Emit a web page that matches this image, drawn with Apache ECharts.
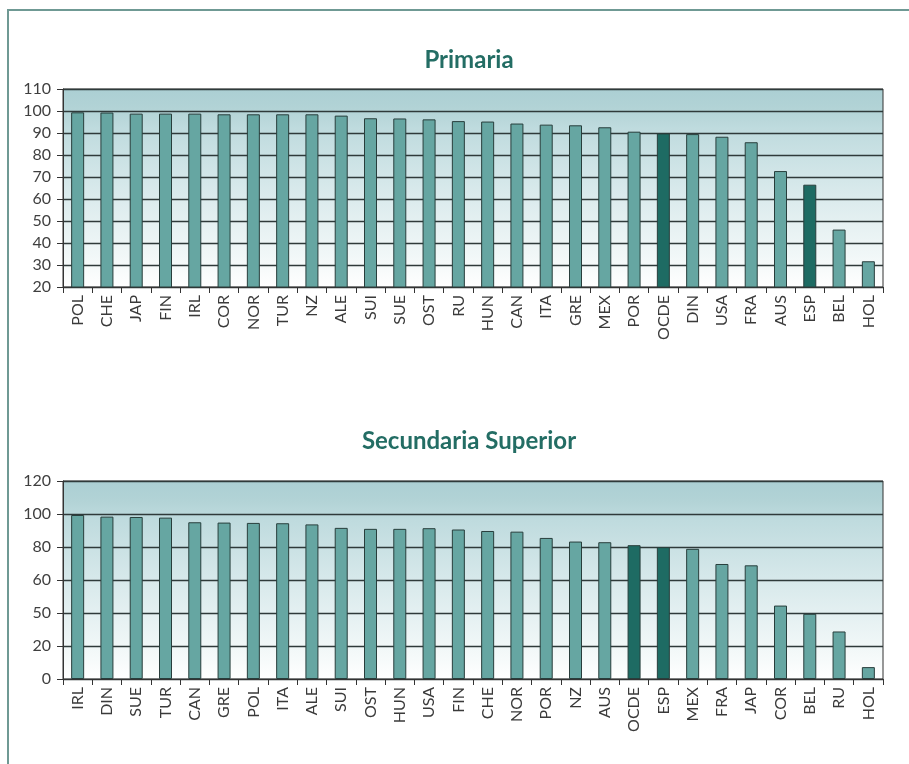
<!DOCTYPE html>
<html>
<head>
<meta charset="utf-8">
<script src="https://cdn.jsdelivr.net/npm/echarts@6/dist/echarts.min.js"></script>
<style>
  html, body { margin:0; padding:0; background:#fff; }
  #frame { position:absolute; left:7px; top:9px; width:910px; height:770px; border-top:2px solid #6f9994; border-left:2px solid #6f9994; }
  #main { position:absolute; left:0; top:0; width:909px; height:764px; }
</style>
</head>
<body>
<div id="frame"></div>
<div id="main"></div>
<script>
// ---- Data ----
const title1 = "Primaria";
const title2 = "Secundaria Superior";

const categories1 = ["POL","CHE","JAP","FIN","IRL","COR","NOR","TUR","NZ","ALE","SUI","SUE","OST","RU","HUN","CAN","ITA","GRE","MEX","POR","OCDE","DIN","USA","FRA","AUS","ESP","BEL","HOL"];
const values1 = [99.4,99.3,98.8,98.8,98.8,98.5,98.5,98.5,98.5,97.9,96.7,96.6,96.2,95.4,95.2,94.3,93.8,93.5,92.6,90.6,89.8,89.5,88.3,85.8,72.7,66.5,46.1,31.7];

const categories2 = ["IRL","DIN","SUE","TUR","CAN","GRE","POL","ITA","ALE","SUI","OST","HUN","USA","FIN","CHE","NOR","POR","NZ","AUS","OCDE","ESP","MEX","FRA","JAP","COR","BEL","RU","HOL"];
const values2 = [99.4,98.4,98.2,97.8,95.0,94.8,94.6,94.4,93.7,91.6,91.0,91.0,91.4,90.6,89.7,89.3,85.5,83.3,82.9,81.1,79.9,78.9,69.7,68.9,44.5,39.5,28.8,7.2];

const highlight = ["OCDE","ESP"];

// y tick labels as printed in the source
const yTicks1 = ["20","30","40","50","60","70","80","90","100","110"];
const yTicks2 = ["0","20","50","60","80","100","120"];

// ---- Chart ----
const chart = echarts.init(document.getElementById('main'), null, {renderer:'canvas'});
const FONT = 'Lato, "Open Sans", sans-serif';
const barColor = '#66a6a2';
const darkColor = '#1e6b63';

function mkData(cats, vals) {
  return vals.map((v, i) => ({
    value: v,
    itemStyle: { color: highlight.includes(cats[i]) ? darkColor : barColor }
  }));
}

const bg = new echarts.graphic.LinearGradient(0, 0, 0, 1, [
  { offset: 0, color: '#abcfd3' },
  { offset: 0.1, color: '#b2d3d6' },
  { offset: 0.2, color: '#bfdbde' },
  { offset: 0.55, color: '#dbebed' },
  { offset: 0.85, color: '#f2f8f8' },
  { offset: 1, color: '#ffffff' }
]);

function grid(top) {
  return { left: 63, right: 26, top: top, height: 198, show: true,
           backgroundColor: bg, borderColor: '#333', borderWidth: 1 };
}

function xAxis(idx, cats) {
  return {
    type: 'category', gridIndex: idx, data: cats,
    axisLine: { lineStyle: { color: '#333', width: 1 } },
    axisTick: { show: true, length: 6, lineStyle: { color: '#333' } },
    axisLabel: { rotate: 90, color: '#3a3a3a', fontSize: 16, fontFamily: FONT, margin: 8, interval: 0 }
  };
}

function yAxis(idx, min, max, interval, labels) {
  return {
    type: 'value', gridIndex: idx, min: min, max: max, interval: interval,
    axisLine: { show: true, lineStyle: { color: '#333' } },
    axisTick: { show: true, length: 6, lineStyle: { color: '#333' } },
    splitLine: { show: true, lineStyle: { color: '#2f3a3a', width: 1.3 } },
    axisLabel: { color: '#3f3f3f', fontSize: 16, fontFamily: FONT, margin: 12,
      formatter: v => labels[Math.round((v - min) / interval)] }
  };
}

chart.setOption({
  animation: false,
  title: [
    { text: title1, left: 464, textAlign: 'center', top: 43, textStyle: { color: '#236d64', fontSize: 24, fontWeight: 'bold', fontFamily: FONT } },
    { text: title2, left: 464, textAlign: 'center', top: 424, textStyle: { color: '#236d64', fontSize: 24, fontWeight: 'bold', fontFamily: FONT } }
  ],
  grid: [ grid(89), grid(481) ],
  xAxis: [ xAxis(0, categories1), xAxis(1, categories2) ],
  yAxis: [ yAxis(0, 20, 110, 10, yTicks1), yAxis(1, 0, 120, 20, yTicks2) ],
  series: [
    { type: 'bar', xAxisIndex: 0, yAxisIndex: 0, data: mkData(categories1, values1),
      barWidth: 13, itemStyle: { borderColor: '#283e3c', borderWidth: 1 } },
    { type: 'bar', xAxisIndex: 1, yAxisIndex: 1, data: mkData(categories2, values2),
      barWidth: 13, itemStyle: { borderColor: '#283e3c', borderWidth: 1 } }
  ]
});
</script>
</body>
</html>
